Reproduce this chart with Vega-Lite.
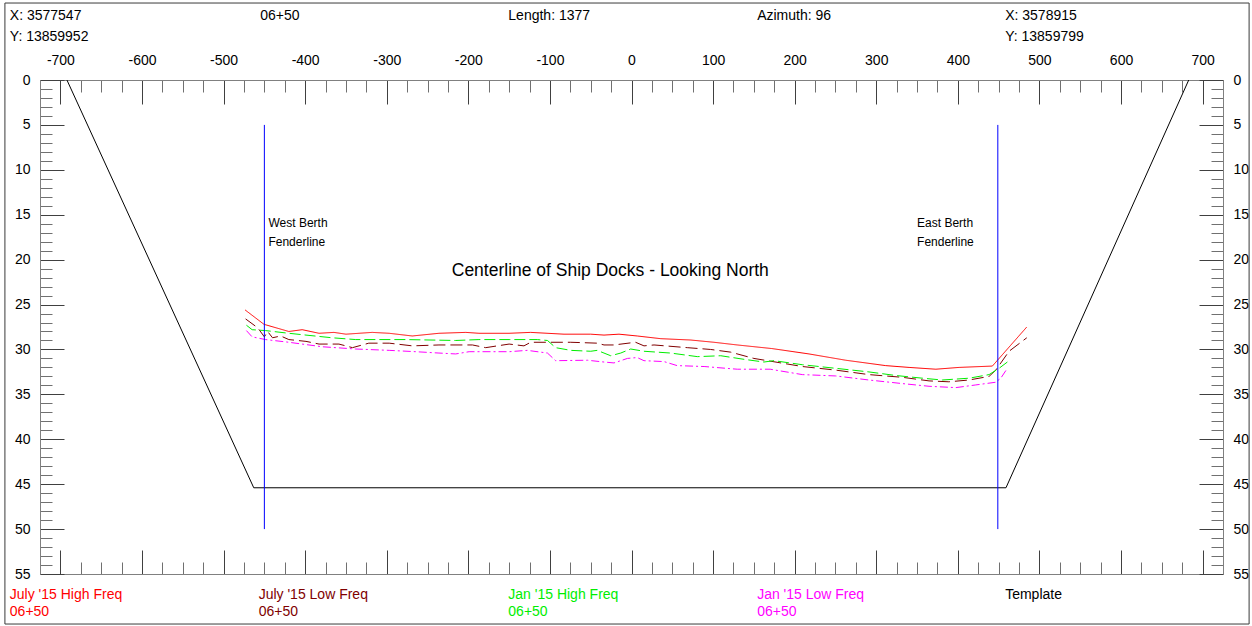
{
  "$schema": "https://vega.github.io/schema/vega-lite/v6.json",
  "width": 1183,
  "height": 494,
  "autosize": {"type": "none"},
  "padding": {"left": 40, "top": 80, "right": 29, "bottom": 52},
  "background": "#ffffff",
  "config": {
    "view": {"stroke": null},
    "font": "Liberation Sans",
    "axis": {"labelFont": "Liberation Sans", "labelFontSize": 14, "labelColor": "#000000", "grid": false, "domainColor": "#808080", "domainWidth": 1, "tickWidth": 1, "labelOverlap": false, "labelFlush": false, "title": null}
  },
  "datasets": {
    "survey": [
      {"s": "JulyHF", "x": -473.6, "y": 25.6}, {"s": "JulyHF", "x": -450.5, "y": 27.2}, {"s": "JulyHF", "x": -420, "y": 28.0}, {"s": "JulyHF", "x": -403.6, "y": 27.8}, {"s": "JulyHF", "x": -383, "y": 28.2}, {"s": "JulyHF", "x": -364.7, "y": 28.1}, {"s": "JulyHF", "x": -350, "y": 28.3}, {"s": "JulyHF", "x": -317.8, "y": 28.1}, {"s": "JulyHF", "x": -297, "y": 28.2}, {"s": "JulyHF", "x": -268.7, "y": 28.5}, {"s": "JulyHF", "x": -236, "y": 28.2}, {"s": "JulyHF", "x": -203, "y": 28.1}, {"s": "JulyHF", "x": -187, "y": 28.2}, {"s": "JulyHF", "x": -150, "y": 28.2}, {"s": "JulyHF", "x": -123.6, "y": 28.1}, {"s": "JulyHF", "x": -82.7, "y": 28.3}, {"s": "JulyHF", "x": -50, "y": 28.3}, {"s": "JulyHF", "x": -33.7, "y": 28.4}, {"s": "JulyHF", "x": -15.3, "y": 28.3}, {"s": "JulyHF", "x": 7, "y": 28.5}, {"s": "JulyHF", "x": 35.8, "y": 28.8}, {"s": "JulyHF", "x": 72.6, "y": 28.95}, {"s": "JulyHF", "x": 101, "y": 29.2}, {"s": "JulyHF", "x": 129.7, "y": 29.5}, {"s": "JulyHF", "x": 172, "y": 29.9}, {"s": "JulyHF", "x": 217.6, "y": 30.5}, {"s": "JulyHF", "x": 262.6, "y": 31.2}, {"s": "JulyHF", "x": 311.6, "y": 31.8}, {"s": "JulyHF", "x": 340.2, "y": 32.0}, {"s": "JulyHF", "x": 373, "y": 32.2}, {"s": "JulyHF", "x": 401.5, "y": 32.0}, {"s": "JulyHF", "x": 442.3, "y": 31.85}, {"s": "JulyHF", "x": 484.5, "y": 27.5},
      {"s": "JulyLF", "x": -473, "y": 26.6}, {"s": "JulyLF", "x": -458, "y": 27.6}, {"s": "JulyLF", "x": -450, "y": 28.6}, {"s": "JulyLF", "x": -446, "y": 28.0}, {"s": "JulyLF", "x": -440, "y": 28.7}, {"s": "JulyLF", "x": -430, "y": 28.5}, {"s": "JulyLF", "x": -420, "y": 28.9}, {"s": "JulyLF", "x": -399, "y": 29.1}, {"s": "JulyLF", "x": -383, "y": 29.4}, {"s": "JulyLF", "x": -358.6, "y": 29.4}, {"s": "JulyLF", "x": -342, "y": 29.8}, {"s": "JulyLF", "x": -322, "y": 29.3}, {"s": "JulyLF", "x": -297, "y": 29.3}, {"s": "JulyLF", "x": -268.7, "y": 29.6}, {"s": "JulyLF", "x": -236, "y": 29.5}, {"s": "JulyLF", "x": -195, "y": 29.5}, {"s": "JulyLF", "x": -178.7, "y": 29.8}, {"s": "JulyLF", "x": -150, "y": 29.4}, {"s": "JulyLF", "x": -131.8, "y": 29.6}, {"s": "JulyLF", "x": -123.6, "y": 29.2}, {"s": "JulyLF", "x": -74.5, "y": 29.2}, {"s": "JulyLF", "x": -42, "y": 29.3}, {"s": "JulyLF", "x": -33.7, "y": 29.5}, {"s": "JulyLF", "x": -21.5, "y": 29.5}, {"s": "JulyLF", "x": 5, "y": 29.2}, {"s": "JulyLF", "x": 15.3, "y": 29.6}, {"s": "JulyLF", "x": 27.6, "y": 29.5}, {"s": "JulyLF", "x": 68.4, "y": 29.8}, {"s": "JulyLF", "x": 97, "y": 30.0}, {"s": "JulyLF", "x": 121.6, "y": 30.3}, {"s": "JulyLF", "x": 150, "y": 31.0}, {"s": "JulyLF", "x": 170, "y": 31.3}, {"s": "JulyLF", "x": 209.4, "y": 31.9}, {"s": "JulyLF", "x": 250.3, "y": 32.3}, {"s": "JulyLF", "x": 291, "y": 32.8}, {"s": "JulyLF", "x": 332, "y": 33.1}, {"s": "JulyLF", "x": 364.7, "y": 33.5}, {"s": "JulyLF", "x": 389, "y": 33.6}, {"s": "JulyLF", "x": 413.8, "y": 33.4}, {"s": "JulyLF", "x": 438.3, "y": 33.0}, {"s": "JulyLF", "x": 446.5, "y": 32.3}, {"s": "JulyLF", "x": 462.8, "y": 30.2}, {"s": "JulyLF", "x": 484.5, "y": 28.7},
      {"s": "JanHF", "x": -472, "y": 27.3}, {"s": "JanHF", "x": -465, "y": 27.8}, {"s": "JanHF", "x": -448.5, "y": 27.9}, {"s": "JanHF", "x": -420, "y": 28.2}, {"s": "JanHF", "x": -399, "y": 28.4}, {"s": "JanHF", "x": -366.8, "y": 28.7}, {"s": "JanHF", "x": -338, "y": 28.9}, {"s": "JanHF", "x": -276.8, "y": 28.9}, {"s": "JanHF", "x": -215.5, "y": 29.0}, {"s": "JanHF", "x": -187, "y": 28.9}, {"s": "JanHF", "x": -150, "y": 28.9}, {"s": "JanHF", "x": -115.5, "y": 28.9}, {"s": "JanHF", "x": -103, "y": 29.0}, {"s": "JanHF", "x": -93, "y": 29.8}, {"s": "JanHF", "x": -74.5, "y": 30.1}, {"s": "JanHF", "x": -50, "y": 30.2}, {"s": "JanHF", "x": -42, "y": 30.1}, {"s": "JanHF", "x": -25.5, "y": 30.7}, {"s": "JanHF", "x": -13.2, "y": 30.4}, {"s": "JanHF", "x": -1, "y": 29.95}, {"s": "JanHF", "x": 15.3, "y": 30.2}, {"s": "JanHF", "x": 48, "y": 30.4}, {"s": "JanHF", "x": 80.7, "y": 30.8}, {"s": "JanHF", "x": 109.4, "y": 30.7}, {"s": "JanHF", "x": 138, "y": 31.1}, {"s": "JanHF", "x": 162.4, "y": 31.4}, {"s": "JanHF", "x": 174.7, "y": 31.25}, {"s": "JanHF", "x": 209.4, "y": 31.7}, {"s": "JanHF", "x": 250.3, "y": 32.1}, {"s": "JanHF", "x": 291, "y": 32.5}, {"s": "JanHF", "x": 323.9, "y": 32.9}, {"s": "JanHF", "x": 356.5, "y": 33.2}, {"s": "JanHF", "x": 381, "y": 33.4}, {"s": "JanHF", "x": 413.8, "y": 33.2}, {"s": "JanHF", "x": 438.3, "y": 32.8}, {"s": "JanHF", "x": 450.5, "y": 32.1}, {"s": "JanHF", "x": 460.7, "y": 31.4},
      {"s": "JanLF", "x": -472, "y": 27.9}, {"s": "JanLF", "x": -465, "y": 28.6}, {"s": "JanLF", "x": -448.5, "y": 28.9}, {"s": "JanLF", "x": -420, "y": 29.2}, {"s": "JanLF", "x": -379, "y": 29.7}, {"s": "JanLF", "x": -338, "y": 29.95}, {"s": "JanLF", "x": -297, "y": 30.1}, {"s": "JanLF", "x": -264.5, "y": 30.25}, {"s": "JanLF", "x": -236, "y": 30.4}, {"s": "JanLF", "x": -215.5, "y": 30.5}, {"s": "JanLF", "x": -199, "y": 30.25}, {"s": "JanLF", "x": -150, "y": 30.25}, {"s": "JanLF", "x": -127.7, "y": 30.1}, {"s": "JanLF", "x": -103, "y": 30.4}, {"s": "JanLF", "x": -93, "y": 31.25}, {"s": "JanLF", "x": -54, "y": 31.2}, {"s": "JanLF", "x": -33.7, "y": 31.4}, {"s": "JanLF", "x": -21.5, "y": 31.5}, {"s": "JanLF", "x": -5, "y": 31.0}, {"s": "JanLF", "x": 7, "y": 30.9}, {"s": "JanLF", "x": 15.3, "y": 31.25}, {"s": "JanLF", "x": 39.8, "y": 31.35}, {"s": "JanLF", "x": 56, "y": 31.8}, {"s": "JanLF", "x": 89, "y": 31.9}, {"s": "JanLF", "x": 129.7, "y": 32.2}, {"s": "JanLF", "x": 170, "y": 32.2}, {"s": "JanLF", "x": 209.4, "y": 32.8}, {"s": "JanLF", "x": 250.3, "y": 32.95}, {"s": "JanLF", "x": 291, "y": 33.4}, {"s": "JanLF", "x": 332, "y": 33.8}, {"s": "JanLF", "x": 364.7, "y": 34.1}, {"s": "JanLF", "x": 397.5, "y": 34.25}, {"s": "JanLF", "x": 422, "y": 33.95}, {"s": "JanLF", "x": 446.5, "y": 33.65}, {"s": "JanLF", "x": 452.6, "y": 33.2}, {"s": "JanLF", "x": 460.7, "y": 32.1}
    ],
    "template": [
      {"i": 1, "x": -692, "y": 0}, {"i": 2, "x": -463, "y": 45.4}, {"i": 3, "x": 459, "y": 45.4}, {"i": 4, "x": 683, "y": 0}
    ],
    "fender": [{"x": -450}, {"x": 449}],
    "header": [
      {"x": -762, "y": -7.13, "text": "X: 3577547"}, {"x": -762, "y": -4.79, "text": "Y: 13859952"}, {"x": -455, "y": -7.13, "text": "06+50"}, {"x": -151, "y": -7.13, "text": "Length: 1377"}, {"x": 154, "y": -7.13, "text": "Azimuth: 96"}, {"x": 458, "y": -7.13, "text": "X: 3578915"}, {"x": 458, "y": -4.79, "text": "Y: 13859799"}
    ],
    "legend": [
      {"s": "JulyHF", "x": -762, "y": 57.3, "text": "July '15 High Freq"}, {"s": "JulyHF", "x": -762, "y": 59.2, "text": "06+50"},
      {"s": "JulyLF", "x": -457, "y": 57.3, "text": "July '15 Low Freq"}, {"s": "JulyLF", "x": -457, "y": 59.2, "text": "06+50"},
      {"s": "JanHF", "x": -151, "y": 57.3, "text": "Jan '15 High Freq"}, {"s": "JanHF", "x": -151, "y": 59.2, "text": "06+50"},
      {"s": "JanLF", "x": 154, "y": 57.3, "text": "Jan '15 Low Freq"}, {"s": "JanLF", "x": 154, "y": 59.2, "text": "06+50"},
      {"s": "Template", "x": 458, "y": 57.3, "text": "Template"}
    ],
    "notes": [
      {"x": -445, "y": 15.95, "text": "West Berth"}, {"x": -445, "y": 18.0, "text": "Fenderline"},
      {"x": 350, "y": 15.95, "text": "East Berth"}, {"x": 350, "y": 18.0, "text": "Fenderline"}
    ],
    "title": [{"x": -26, "y": 21.27, "text": "Centerline of Ship Docks - Looking North"}]
  },
  "resolve": {"axis": {"x": "independent", "y": "independent"}},
  "layer": [
    {
      "data": {"values": [{}]},
      "mark": {"type": "rect", "fill": "transparent", "stroke": "#3a3a3a", "strokeWidth": 1},
      "encoding": {
        "x": {"datum": -768, "type": "quantitative", "scale": {"domain": [-725, 725], "nice": false, "zero": false}, "axis": null},
        "x2": {"datum": 757},
        "y": {"datum": -8.57, "type": "quantitative", "scale": {"domain": [0, 55], "reverse": true, "nice": false, "zero": false}, "axis": null},
        "y2": {"datum": 60.57}
      }
    },
    {
      "data": {"name": "template"},
      "mark": {"type": "line", "color": "#000000", "strokeWidth": 1},
      "encoding": {
        "x": {"field": "x", "type": "quantitative", "scale": {"domain": [-725, 725], "nice": false, "zero": false},
          "axis": {"orient": "top", "values": [-725,-700,-675,-650,-625,-600,-575,-550,-525,-500,-475,-450,-425,-400,-375,-350,-325,-300,-275,-250,-225,-200,-175,-150,-125,-100,-75,-50,-25,0,25,50,75,100,125,150,175,200,225,250,275,300,325,350,375,400,425,450,475,500,525,550,575,600,625,650,675,700,725],
            "labelExpr": "datum.value % 100 === 0 ? '' + datum.value : ''",
            "tickSize": {"condition": {"test": "datum.value % 100 === 0", "value": -24}, "value": -12},
            "tickColor": {"condition": {"test": "datum.value % 100 === 0", "value": "#404040"}, "value": "#707070"},
            "labelPadding": 37}},
        "y": {"field": "y", "type": "quantitative", "scale": {"domain": [0, 55], "reverse": true, "nice": false, "zero": false},
          "axis": {"orient": "left", "values": [0,1,2,3,4,5,6,7,8,9,10,11,12,13,14,15,16,17,18,19,20,21,22,23,24,25,26,27,28,29,30,31,32,33,34,35,36,37,38,39,40,41,42,43,44,45,46,47,48,49,50,51,52,53,54,55],
            "labelExpr": "datum.value % 5 === 0 ? '' + datum.value : ''",
            "tickSize": {"condition": {"test": "datum.value % 5 === 0", "value": -24}, "value": -12},
            "tickColor": {"condition": {"test": "datum.value % 5 === 0", "value": "#404040"}, "value": "#707070"},
            "labelPadding": 34}},
        "order": {"field": "i", "type": "quantitative"}
      }
    },
    {
      "data": {"name": "survey"},
      "mark": {"type": "line", "strokeWidth": 1},
      "encoding": {
        "x": {"field": "x", "type": "quantitative", "scale": {"domain": [-725, 725], "nice": false, "zero": false},
          "axis": {"orient": "bottom", "values": [-725,-700,-675,-650,-625,-600,-575,-550,-525,-500,-475,-450,-425,-400,-375,-350,-325,-300,-275,-250,-225,-200,-175,-150,-125,-100,-75,-50,-25,0,25,50,75,100,125,150,175,200,225,250,275,300,325,350,375,400,425,450,475,500,525,550,575,600,625,650,675,700,725],
            "labels": false,
            "tickSize": {"condition": {"test": "datum.value % 100 === 0", "value": -24}, "value": -12},
            "tickColor": {"condition": {"test": "datum.value % 100 === 0", "value": "#404040"}, "value": "#707070"}}},
        "y": {"field": "y", "type": "quantitative", "scale": {"domain": [0, 55], "reverse": true, "nice": false, "zero": false},
          "axis": {"orient": "right", "values": [0,1,2,3,4,5,6,7,8,9,10,11,12,13,14,15,16,17,18,19,20,21,22,23,24,25,26,27,28,29,30,31,32,33,34,35,36,37,38,39,40,41,42,43,44,45,46,47,48,49,50,51,52,53,54,55],
            "labelExpr": "datum.value % 5 === 0 ? '' + datum.value : ''",
            "tickSize": {"condition": {"test": "datum.value % 5 === 0", "value": -24}, "value": -12},
            "tickColor": {"condition": {"test": "datum.value % 5 === 0", "value": "#404040"}, "value": "#707070"},
            "labelPadding": 34}},
        "color": {"field": "s", "type": "nominal", "legend": null, "scale": {"domain": ["JulyHF", "JulyLF", "JanHF", "JanLF", "Template"], "range": ["#ff0000", "#800000", "#00ee00", "#ff00ff", "#000000"]}},
        "strokeDash": {"field": "s", "type": "nominal", "legend": null, "scale": {"domain": ["JulyHF", "JulyLF", "JanHF", "JanLF"], "range": [[1, 0], [12, 5], [11, 4], [8, 3, 2, 3]]}}
      }
    },
    {
      "data": {"name": "fender"},
      "mark": {"type": "rule", "color": "#0000ff", "strokeWidth": 1},
      "encoding": {
        "x": {"field": "x", "type": "quantitative", "scale": {"domain": [-725, 725], "nice": false, "zero": false}, "axis": null},
        "y": {"datum": 5, "type": "quantitative", "scale": {"domain": [0, 55], "reverse": true, "nice": false, "zero": false}, "axis": null},
        "y2": {"datum": 50}
      }
    },
    {
      "data": {"name": "header"},
      "mark": {"type": "text", "align": "left", "baseline": "middle", "fontSize": 14, "font": "Liberation Sans", "color": "#000000"},
      "encoding": {
        "x": {"field": "x", "type": "quantitative", "scale": {"domain": [-725, 725], "nice": false, "zero": false}, "axis": null},
        "y": {"field": "y", "type": "quantitative", "scale": {"domain": [0, 55], "reverse": true, "nice": false, "zero": false}, "axis": null},
        "text": {"field": "text"}
      }
    },
    {
      "data": {"name": "legend"},
      "mark": {"type": "text", "align": "left", "baseline": "middle", "fontSize": 14, "font": "Liberation Sans"},
      "encoding": {
        "x": {"field": "x", "type": "quantitative", "scale": {"domain": [-725, 725], "nice": false, "zero": false}, "axis": null},
        "y": {"field": "y", "type": "quantitative", "scale": {"domain": [0, 55], "reverse": true, "nice": false, "zero": false}, "axis": null},
        "text": {"field": "text"},
        "color": {"field": "s", "type": "nominal", "legend": null, "scale": {"domain": ["JulyHF", "JulyLF", "JanHF", "JanLF", "Template"], "range": ["#ff0000", "#800000", "#00ee00", "#ff00ff", "#000000"]}}
      }
    },
    {
      "data": {"name": "notes"},
      "mark": {"type": "text", "align": "left", "baseline": "middle", "fontSize": 12, "font": "Liberation Sans", "color": "#000000"},
      "encoding": {
        "x": {"field": "x", "type": "quantitative", "scale": {"domain": [-725, 725], "nice": false, "zero": false}, "axis": null},
        "y": {"field": "y", "type": "quantitative", "scale": {"domain": [0, 55], "reverse": true, "nice": false, "zero": false}, "axis": null},
        "text": {"field": "text"}
      }
    },
    {
      "data": {"name": "title"},
      "mark": {"type": "text", "align": "center", "baseline": "middle", "fontSize": 17.5, "font": "Liberation Sans", "color": "#000000"},
      "encoding": {
        "x": {"field": "x", "type": "quantitative", "scale": {"domain": [-725, 725], "nice": false, "zero": false}, "axis": null},
        "y": {"field": "y", "type": "quantitative", "scale": {"domain": [0, 55], "reverse": true, "nice": false, "zero": false}, "axis": null},
        "text": {"field": "text"}
      }
    }
  ]
}
